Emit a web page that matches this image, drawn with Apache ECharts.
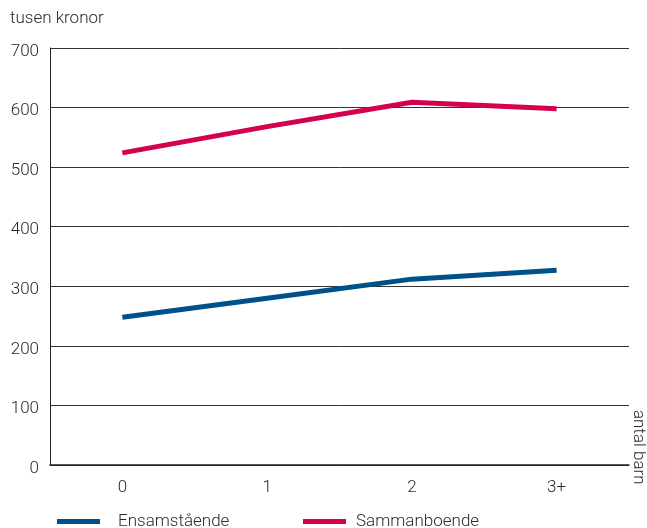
<!DOCTYPE html>
<html><head><meta charset="utf-8">
<script src="https://cdn.jsdelivr.net/npm/echarts@6/dist/echarts.min.js"></script>
<style>html,body{margin:0;padding:0;background:#fff}#c{width:647px;height:528px}</style>
</head><body><div id="c"></div>
<script>
const categories = ['0', '1', '2', '3+'];
const ensamstaende = [248, 280, 312, 327];
const sammanboende = [524, 568, 609, 598];
const yTicks = [0, 100, 200, 300, 400, 500, 600, 700];
const seriesNames = ['Ensamstående', 'Sammanboende'];
const yTitle = 'tusen kronor';
const xTitle = 'antal barn';

const font = 'Roboto';
const fs = 17;
const fw = 300;
const txt = { fontFamily: font, fontSize: fs, fontWeight: fw, color: '#2a2a2a' };
const chart = echarts.init(document.getElementById('c'));
chart.setOption({
  animation: false,
  grid: { left: 50, right: 18, top: 48, bottom: 63 },
  legend: [
    {
      left: 52, top: 508, itemWidth: 43, itemHeight: 5, icon: 'rect',
      textStyle: Object.assign({}, txt, { lineHeight: 17, padding: [0, 0, 0, 13] }),
      data: [seriesNames[0]]
    },
    {
      left: 298, top: 508, itemWidth: 43, itemHeight: 5, icon: 'rect',
      textStyle: Object.assign({}, txt, { lineHeight: 17, padding: [0, 0, 0, 5] }),
      data: [seriesNames[1]]
    }
  ],
  xAxis: {
    type: 'category', data: categories, boundaryGap: true,
    axisLine: { lineStyle: { color: '#222', width: 1.5 } },
    axisTick: { show: false },
    axisLabel: Object.assign({}, txt, { margin: 14 })
  },
  yAxis: {
    type: 'value', min: yTicks[0], max: yTicks[yTicks.length - 1], interval: 100,
    axisLine: { show: true, lineStyle: { color: '#222', width: 1 } },
    axisTick: { show: false },
    splitLine: { lineStyle: { color: '#333', width: 1 } },
    axisLabel: {
      margin: 11,
      formatter: '{a|{value}}',
      rich: { a: Object.assign({}, txt, { lineHeight: 17, padding: [7, 0, 0, 0] }) }
    }
  },
  graphic: [
    { type: 'text', left: 10, top: 10, style: { text: yTitle, font: fw + ' ' + fs + 'px ' + font, fill: '#2a2a2a' } },
    { type: 'text', x: 647, y: 410, rotation: -Math.PI / 2, style: { text: xTitle, font: fw + ' ' + fs + 'px ' + font, fill: '#2a2a2a' } }
  ],
  series: [
    { name: seriesNames[0], type: 'line', data: ensamstaende, symbol: 'none', color: '#00508a', lineStyle: { width: 5, color: '#00508a' } },
    { name: seriesNames[1], type: 'line', data: sammanboende, symbol: 'none', color: '#d5004f', lineStyle: { width: 5, color: '#d5004f' } }
  ]
});
</script></body></html>
